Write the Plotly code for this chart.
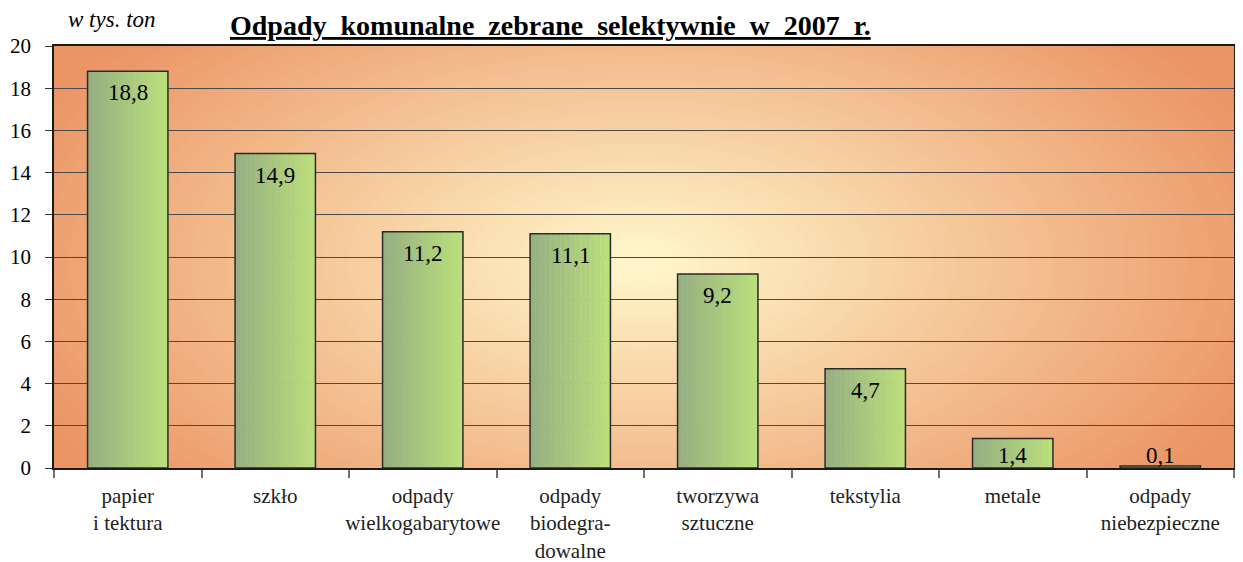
import plotly.graph_objects as go

# ---- data ----
categories = ["papier<br>i tektura", "szkło", "odpady<br>wielkogabarytowe",
              "odpady<br>biodegra-<br>dowalne", "tworzywa<br>sztuczne",
              "tekstylia", "metale", "odpady<br>niebezpieczne"]
values = [18.8, 14.9, 11.2, 11.1, 9.2, 4.7, 1.4, 0.1]
labels = ["18,8", "14,9", "11,2", "11,1", "9,2", "4,7", "1,4", "0,1"]
y_ticks = [0, 2, 4, 6, 8, 10, 12, 14, 16, 18, 20]

title_text = "Odpady  komunalne  zebrane  selektywnie  w  2007  r."
unit_text = "w tys. ton"

# ---- layout geometry (figure pixels; page adds an 8px body margin) ----
W, H = 1243, 562
ML, MT = 46, 38
PLOT_R, PLOT_B = 1226, 460
MR, MB = W - PLOT_R, H - PLOT_B
PW = PLOT_R - ML
PH = PLOT_B - MT
XR = [-0.5, len(categories) - 0.5]
YR = [0, 20]
FONT = "Liberation Serif"

def px_to_x(px):
    return XR[0] + (px - ML) / PW * (XR[1] - XR[0])

def px_to_y(py):
    return YR[0] + (PLOT_B - py) / PH * (YR[1] - YR[0])

fig = go.Figure()

# ---- bars with horizontal green gradient (slices) ----
BW = 0.545
NS = 16
c_left = (150, 176, 130)
c_right = (186, 222, 124)
for i in range(NS):
    t = i / (NS - 1)
    col = tuple(round(c_left[k] + (c_right[k] - c_left[k]) * t) for k in range(3))
    fig.add_trace(go.Bar(
        x=categories, y=values,
        width=BW / NS + 0.002, offset=-BW / 2 + i * BW / NS,
        marker=dict(color="rgb(%d,%d,%d)" % col, line=dict(width=0)),
        hoverinfo="skip", showlegend=False,
    ))
# outline
fig.add_trace(go.Bar(
    x=categories, y=values, width=BW, offset=-BW / 2,
    marker=dict(color="rgba(0,0,0,0)", line=dict(color="#2b2b2b", width=1.5)),
    showlegend=False,
))

# ---- radial background gradient (ellipses below grid) ----
shapes = []
c_center = (255, 249, 205)
c_edge = (235, 148, 100)
cxp, cyp = 632, 254
ax_px, by_px = 680, 350
NSTEP = 70
RMAX = 1.25
cx, cy = px_to_x(cxp), px_to_y(cyp)
for s in range(NSTEP):
    r = RMAX * (1 - s / NSTEP)
    t = min(r, 1.0)
    col = tuple(round(c_center[k] + (c_edge[k] - c_center[k]) * t) for k in range(3))
    dx = r * ax_px / PW * (XR[1] - XR[0])
    dy = r * by_px / PH * (YR[1] - YR[0])
    shapes.append(dict(type="circle", xref="x", yref="y", layer="below",
                       x0=cx - dx, x1=cx + dx, y0=cy - dy, y1=cy + dy,
                       fillcolor="rgb(%d,%d,%d)" % col, line=dict(width=0)))

# ---- value labels ----
annotations = []
for c, v, lab in zip(categories, values, labels):
    if v >= 1:
        annotations.append(dict(x=c, y=v, xref="x", yref="y", text=lab,
                                showarrow=False, yanchor="top",
                                yshift=-7 if v >= 2 else -3,
                                font=dict(family=FONT, size=23, color="black")))
    else:
        annotations.append(dict(x=c, y=v, xref="x", yref="y", text=lab,
                                showarrow=False, yanchor="bottom", yshift=-4,
                                font=dict(family=FONT, size=23, color="black")))

annotations.append(dict(text="<b><u>" + title_text + "</u></b>", xref="paper", yref="paper",
                        x=(542 - ML) / PW, y=1 + (MT - 0) / PH, xanchor="center", yanchor="top",
                        showarrow=False, font=dict(family=FONT, size=28, color="black")))
annotations.append(dict(text="<i>" + unit_text + "</i>", xref="paper", yref="paper",
                        x=(58 - ML) / PW, y=1 + (MT - 11) / PH, xanchor="left", yanchor="middle",
                        showarrow=False, font=dict(family=FONT, size=23, color="black")))

fig.update_layout(
    width=W, height=H,
    margin=dict(l=ML, r=MR, t=MT, b=MB, autoexpand=False),
    paper_bgcolor="white",
    plot_bgcolor="rgb(235,148,100)",
    barmode="overlay",
    shapes=shapes,
    annotations=annotations,
    showlegend=False,
    font=dict(family=FONT, color="black"),
)
fig.update_xaxes(
    range=XR, type="category", tickson="boundaries", tickangle=0, automargin=False,
    ticks="outside", ticklen=8, tickcolor="#707070", tickwidth=1.5,
    showline=True, linecolor="#1a1a1a", linewidth=1.5, mirror=True,
    showgrid=False, tickfont=dict(family=FONT, size=21, color="#222"),
    ticklabelstandoff=8,
)
fig.update_yaxes(
    range=YR, tickvals=y_ticks, ticktext=[str(v) for v in y_ticks], automargin=False,
    ticks="outside", ticklen=7, tickcolor="#333", tickwidth=1.2,
    showline=True, linecolor="#1a1a1a", linewidth=1.5, mirror=True,
    showgrid=True, gridcolor="#4a4a4a", gridwidth=1,
    zeroline=False, tickfont=dict(family=FONT, size=21, color="black"),
    ticklabelstandoff=10,
)

fig.write_html("out.html")
